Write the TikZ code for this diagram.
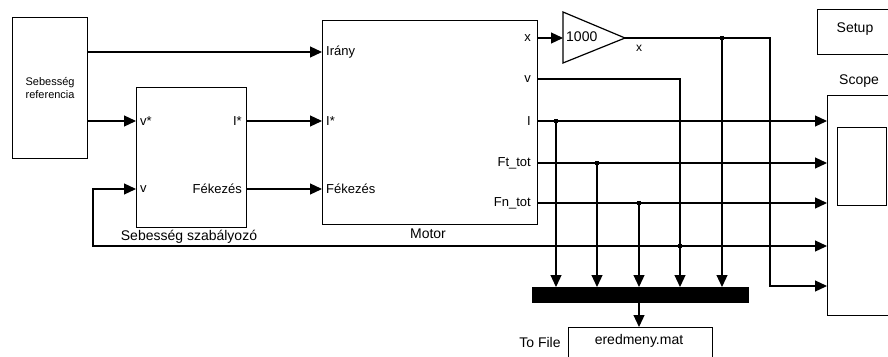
\documentclass[tikz,border=0pt]{standalone}
\usepackage{fontspec}
\setmainfont{Liberation Sans}
\usetikzlibrary{arrows.meta}
\begin{document}
\begin{tikzpicture}[x=1pt,y=-1pt]
\tikzset{
  blk/.style={draw, line width=1.2pt, inner sep=0pt, anchor=north west},
  sig/.style={line width=1.2pt, -{Triangle[length=12pt,width=11pt]}},
  plab/.style={inner sep=0pt, font=\fontsize{13}{15}\selectfont},
  blab/.style={inner sep=0pt, font=\fontsize{14}{16}\selectfont},
  jdot/.style={fill, rectangle, minimum size=4pt, inner sep=0pt}
}
\clip (0,0) rectangle (888,356);
% blocks
\node[blk, minimum width=75, minimum height=141] (ref) at (12,17) {};
\node[inner sep=0pt, align=center, font=\fontsize{11}{13}\selectfont] (reftxt) at (ref.center) {Sebesség\\referencia};
\node[blk, minimum width=110, minimum height=140] (sc) at (136,87) {};
\node[blab] (sclab) at (189,237) {Sebesség szabályozó};
\node[blk, minimum width=215, minimum height=204] (mot) at (322,20) {};
\node[blab] (motlab) at (428,234) {Motor};
\node[blk, minimum width=80, minimum height=220] (scope) at (827,95) {};
\node[blk, minimum width=49, minimum height=78] (screen) at (837,127) {};
\node[blab] (scopelab) at (859,81) {Scope};
\node[blk, minimum width=80, minimum height=45] (setup) at (817,9) {};
\node[blab] (setuplab) at (855,29) {Setup};
\node[blk, fill=black, minimum width=216, minimum height=15] (mux) at (532,287) {};
\node[blk, minimum width=144, minimum height=40] (tofile) at (568,327) {};
\node[blab] (tfname) at (639,341) {eredmeny.mat};
\node[blab] (tflab) at (540,342) {To File};
% gain
\draw[line width=1.2pt] (563,12) -- (625,38) -- (563,63) -- cycle;
\node[blab, anchor=west] (gaintxt) at (566,37) {1000};
\node[inner sep=0pt, font=\fontsize{12}{14}\selectfont] (xlab) at (639,48) {x};
% port labels
\node[plab, anchor=west] at (140,121) {v*};
\node[plab, anchor=west] at (140,189) {v};
\node[plab, anchor=east] at (242,121) {I*};
\node[plab, anchor=east] at (242,189) {Fékezés};
\node[plab, anchor=west] at (326,52) {Irány};
\node[plab, anchor=west] at (326,121) {I*};
\node[plab, anchor=west] at (326,189) {Fékezés};
\node[plab, anchor=east] at (531,38) {x};
\node[plab, anchor=east] at (531,79) {v};
\node[plab, anchor=east] at (531,121) {I};
\node[plab, anchor=east] at (531,163) {Ft\_tot};
\node[plab, anchor=east] at (531,203) {Fn\_tot};
% ports
\coordinate (refO1) at (87,52);
\coordinate (refO2) at (87,121);
\coordinate (scI1) at (136,121);
\coordinate (scI2) at (136,189);
\coordinate (scO1) at (246,121);
\coordinate (scO2) at (246,189);
\coordinate (motI1) at (322,52);
\coordinate (motI2) at (322,121);
\coordinate (motI3) at (322,189);
\coordinate (motOx) at (537,38);
\coordinate (motOv) at (537,79);
\coordinate (motOI) at (537,121);
\coordinate (motOFt) at (537,163);
\coordinate (motOFn) at (537,203);
\coordinate (gainIn) at (563,38);
\coordinate (gainOut) at (625,38);
\coordinate (scopeIn1) at (827,121);
\coordinate (scopeIn2) at (827,163);
\coordinate (scopeIn3) at (827,203);
\coordinate (scopeIn4) at (827,246);
\coordinate (scopeIn5) at (827,286);
\coordinate (muxIn1) at (556,287);
\coordinate (muxIn2) at (597,287);
\coordinate (muxIn3) at (639,287);
\coordinate (muxIn4) at (680,287);
\coordinate (muxIn5) at (722,287);
\coordinate (muxOut) at (639,302);
\coordinate (tfIn) at (639,327);
\coordinate (jI) at (556,121);
\coordinate (jFt) at (597,163);
\coordinate (jFn) at (639,203);
\coordinate (jv) at (680,246);
\coordinate (jx) at (722,38);
\coordinate (cx) at (770,286);
\coordinate (fb) at (93,189);
% connectors
\draw[sig] (refO1) -- (motI1);
\draw[sig] (refO2) -- (scI1);
\draw[sig] (scO1) -- (motI2);
\draw[sig] (scO2) -- (motI3);
\draw[sig] (motOx) -- (gainIn);
\draw[sig] (gainOut) -| (cx) -- (scopeIn5);
\draw[sig] (jx) -- (muxIn5);
\draw[sig] (motOv) -| (muxIn4);
\draw[sig] (jv) -- (scopeIn4);
\draw[sig] (jv) -| (fb) -- (scI2);
\draw[sig] (motOI) -- (scopeIn1);
\draw[sig] (jI) -- (muxIn1);
\draw[sig] (motOFt) -- (scopeIn2);
\draw[sig] (jFt) -- (muxIn2);
\draw[sig] (motOFn) -- (scopeIn3);
\draw[sig] (jFn) -- (muxIn3);
\draw[sig] (muxOut) -- (tfIn);
% branch points
\node[jdot] (dI) at (jI) {};
\node[jdot] (dFt) at (jFt) {};
\node[jdot] (dFn) at (jFn) {};
\node[jdot] (dv) at (jv) {};
\node[jdot] (dx) at (jx) {};
\end{tikzpicture}
\end{document}
